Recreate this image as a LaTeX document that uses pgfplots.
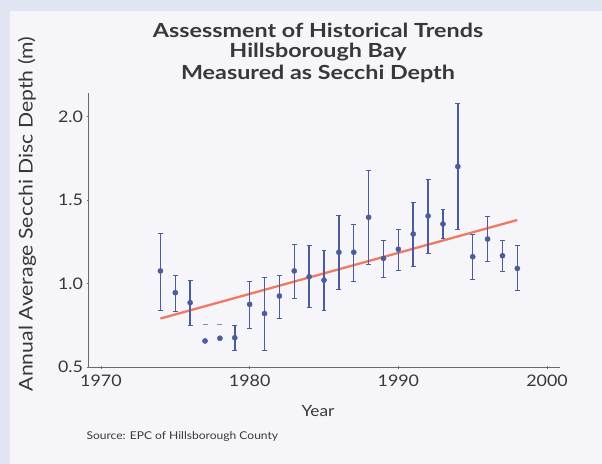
\documentclass[border=0pt]{standalone}
\usepackage{fontspec}
\setmainfont[FakeStretch=1.12]{Lato}
\newfontfamily\titlefont[FakeStretch=1.2]{Lato}
\usepackage{pgfplots}
\pgfplotsset{compat=1.18}
\usepackage{pgfplotstable}
\definecolor{outerbg}{HTML}{E1E5F2}
\definecolor{innerbg}{HTML}{F6F6FA}
\definecolor{dotblue}{HTML}{4A5C9E}
\definecolor{trendred}{HTML}{EE7A62}
\definecolor{txt}{HTML}{383838}
\definecolor{axisgrey}{HTML}{6A6A6A}

\pgfplotstableread{
x y ep em
1974 1.075 0.225 0.235
1975 0.945 0.105 0.115
1976 0.885 0.135 0.138
1979 0.675 0.072 0.075
1980 0.875 0.140 0.145
1981 0.820 0.215 0.220
1982 0.925 0.125 0.135
1983 1.075 0.160 0.165
1984 1.040 0.186 0.185
1985 1.020 0.180 0.180
1986 1.187 0.219 0.220
1987 1.187 0.168 0.172
1988 1.396 0.279 0.281
1989 1.150 0.106 0.113
1990 1.205 0.121 0.125
1991 1.296 0.190 0.191
1992 1.404 0.220 0.224
1993 1.356 0.090 0.086
1994 1.700 0.375 0.375
1995 1.160 0.136 0.133
1996 1.266 0.138 0.136
1997 1.166 0.090 0.096
1998 1.090 0.136 0.133
}\secchi

\pgfplotstableread{
x y
1977 0.656
1978 0.672
}\nobars

\pgfplotstableread{
x y
1977 0.757
1978 0.757
}\dashes

\begin{document}
\begin{tikzpicture}
\useasboundingbox (0,0) rectangle (602bp,-464bp);
\fill[outerbg] (0,0) rectangle (602bp,-464bp);
\fill[innerbg] (10bp,-11bp) rectangle (602bp,-464bp);

\node[txt,font=\titlefont\fontsize{19.5}{23}\selectfont\bfseries] at (318bp,-30bp) {Assessment of Historical Trends};
\node[txt,font=\titlefont\fontsize{19.5}{23}\selectfont\bfseries] at (318bp,-52bp) {Hillsborough Bay};
\node[txt,font=\titlefont\fontsize{19.5}{23}\selectfont\bfseries] at (318bp,-74bp) {Measured as Secchi Depth};

\node[txt,font=\fontsize{19}{22}\selectfont,rotate=90] at (27bp,-214bp) {Annual Average Secchi Disc Depth (m)};
\node[txt,font=\fontsize{15.5}{18}\selectfont] at (318bp,-411bp) {Year};
\node[txt,font=\fontsize{10.8}{13}\selectfont,anchor=west] at (83bp,-437bp) {Source: EPC of Hillsborough County};

\begin{axis}[
  at={(88bp,-367bp)}, anchor=south west,
  scale only axis,
  width=472bp, height=274bp,
  xmin=1969.13, xmax=2000.87,
  ymin=0.5, ymax=2.14,
  axis lines=left,
  axis line style={-, axisgrey, line width=1bp},
  xtick={1970,1980,1990,2000},
  ytick={0.5,1.0,1.5,2.0},
  yticklabels={0.5,1.0,1.5,2.0},
  xticklabels={1970,1980,1990,2000},
  tick style={axisgrey, line width=0.6bp},
  major tick length=3bp,
  tick label style={txt, font=\fontsize{16}{18}\selectfont},
  /pgf/number format/assume math mode=true,
  xticklabel shift=3bp,
  yticklabel shift=0bp,
  clip=false,
]
\addplot[trendred, line width=2.3bp] coordinates {(1974,0.79) (1998,1.38)};
\addplot[only marks, mark=*, mark size=2.6bp, color=dotblue,
  error bars/.cd, y dir=both, y explicit,
  error bar style={dotblue, line width=1.5bp},
  error mark options={rotate=90, mark size=2.4bp, line width=0.8bp, dotblue}]
  table[x=x, y=y, y error plus=ep, y error minus=em] {\secchi};
\addplot[only marks, mark=*, mark size=2.6bp, color=dotblue] table[x=x,y=y] {\nobars};
\addplot[only marks, mark=-, mark size=2.5bp, color=dotblue!70, line width=0.8bp] table[x=x,y=y] {\dashes};
\end{axis}
\end{tikzpicture}
\end{document}
